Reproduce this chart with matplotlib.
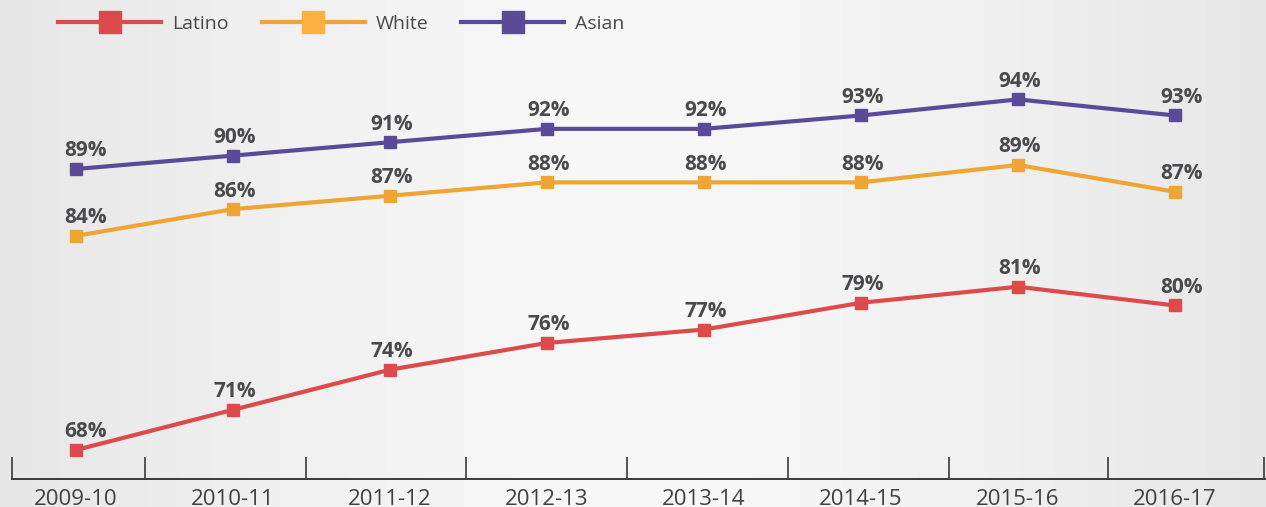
import numpy as np
import matplotlib
matplotlib.use("Agg")
import matplotlib.pyplot as plt
from matplotlib.lines import Line2D

plt.rcParams['font.family'] = ['Open Sans', 'DejaVu Sans']

# data
years = ["2009-10", "2010-11", "2011-12", "2012-13", "2013-14", "2014-15", "2015-16", "2016-17"]
latino = [68, 71, 74, 76, 77, 79, 80.2, 78.8]
white = [84, 86, 87, 88, 88, 88, 89.3, 87.3]
asian = [89, 90, 91, 92, 92, 93, 94.2, 93.0]
latino_lbl = ["68%", "71%", "74%", "76%", "77%", "79%", "81%", "80%"]
white_lbl = ["84%", "86%", "87%", "88%", "88%", "88%", "89%", "87%"]
asian_lbl = ["89%", "90%", "91%", "92%", "92%", "93%", "94%", "93%"]

c_latino = "#dc4a4c"
c_white = "#eea533"
c_asian = "#5a4a98"
txt = "#4a4a4d"

fig = plt.figure(figsize=(12.66, 5.07), dpi=100)

# soft grey -> white -> grey background
bg = fig.add_axes([0, 0, 1, 1], zorder=-5)
xs = np.linspace(0, 1, 400)
shade = 248 - 17 * np.abs((xs - 0.5) / 0.5) ** 1.3
img = np.tile(shade / 255.0, (10, 1))
bg.imshow(np.dstack([img, img, img * 1.002]).clip(0, 1), aspect='auto', extent=[0, 1, 0, 1])
bg.axis('off')

ax = fig.add_axes([0, 28 / 507, 1, 1 - 28 / 507])
ax.set_facecolor('none')
x = np.arange(len(years))

series = [(latino, latino_lbl, c_latino), (white, white_lbl, c_white), (asian, asian_lbl, c_asian)]
for vals, lbls, col in series:
    ax.plot(x, vals, color=col, lw=3, marker='s', ms=9, mec=col, mfc=col, solid_joinstyle='miter')
    for i, (v, s) in enumerate(zip(vals, lbls)):
        dx = 7 if i == 0 else (5 if i == len(x) - 1 else 1)
        ax.annotate(s, (i, v), xytext=(dx, 9), textcoords='offset points',
                    ha='center', va='baseline', fontsize=15, fontweight='bold', color=txt)

ax.set_xlim(-76 / 157, (1266 - 76) / 157)
ax.set_ylim(65.83, 101.63)

for s in ['top', 'right', 'left']:
    ax.spines[s].set_visible(False)
ax.spines['bottom'].set_bounds(-0.41, 7.6)
ax.spines['bottom'].set_color('#3a3a3a')
ax.spines['bottom'].set_linewidth(1.4)
ax.set_yticks([])

ax.set_xticks(x)
ax.set_xticklabels(years)
ax.tick_params(axis='x', which='major', length=0, pad=7, labelsize=16, labelcolor='#404040')
seps = [-0.41, 0.44, 1.465, 2.484, 3.51, 4.535, 5.56, 6.573, 7.57]
ax.set_xticks(seps, minor=True)
ax.tick_params(axis='x', which='minor', direction='in', length=16, width=1.2, color='#3a3a3a')

handles = [Line2D([], [], color=c, lw=3, marker='s', ms=16, mfc=m, mec=m)
           for c, m in [(c_latino, c_latino), (c_white, "#fbb040"), (c_asian, c_asian)]]
leg = ax.legend(handles, ["Latino", "White", "Asian"], loc='center left',
                bbox_to_anchor=(0.04, 1 - 24 / 479), ncol=3, frameon=False, fontsize=14,
                handlelength=5.3, handletextpad=0.55, columnspacing=1.7, borderaxespad=0)
for t in leg.get_texts():
    t.set_color(txt)

fig.savefig("out.png", dpi=100)
